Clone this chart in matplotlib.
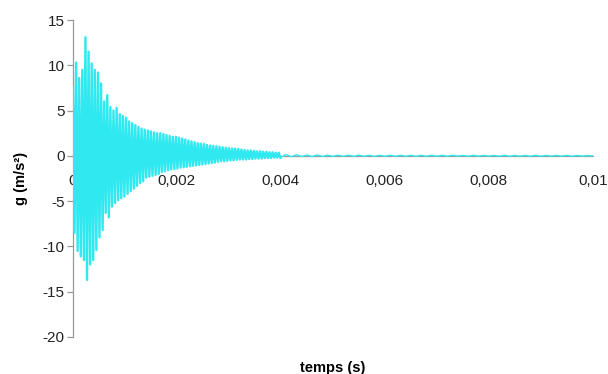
import numpy as np
import matplotlib
matplotlib.use("Agg")
import matplotlib.pyplot as plt #for plot creation

#time between two positive peaks (s)
period = 6e-5

#positive peaks of each cycle (m/s2)
upPeaks = [7.6, 10.3, 8.6, 9.5, 13.1, 11.5, 10.2, 9.5, 9.2, 8.0,
           6.0, 6.7, 5.4, 5.0, 5.3, 4.6, 4.4, 4.2, 3.8, 3.6,
           3.4, 3.2, 3.0, 2.9, 2.8, 2.7, 2.6, 2.5, 2.5, 2.4,
           2.3, 2.2, 2.1, 2.1, 2.0, 1.9, 1.8, 1.7, 1.6, 1.5,
           1.4, 1.35, 1.3, 1.2, 1.15, 1.1, 1.05, 1.0, 0.95, 0.9,
           0.85, 0.8, 0.8, 0.75, 0.7, 0.65, 0.6, 0.6, 0.55, 0.5,
           0.5, 0.45, 0.45, 0.4, 0.4, 0.35, 0.35]

#negative peaks of each cycle (m/s2)
downPeaks = [-8.5, -10.5, -11.1, -11.5, -13.7, -12.0, -11.5, -10.4, -9.0, -8.2,
             -6.3, -6.8, -5.6, -5.2, -4.9, -4.7, -4.5, -4.2, -3.9, -3.6,
             -3.3, -3.0, -2.8, -2.4, -2.3, -2.2, -2.1, -2.0, -1.8, -1.7,
             -1.6, -1.5, -1.45, -1.4, -1.3, -1.25, -1.2, -1.15, -1.1, -1.05,
             -1.0, -0.95, -0.9, -0.85, -0.8, -0.75, -0.65, -0.6, -0.6, -0.55,
             -0.5, -0.5, -0.45, -0.4, -0.4, -0.4, -0.35, -0.35, -0.3, -0.3,
             -0.3, -0.25, -0.25, -0.25, -0.2, -0.2, -0.2]

#small leftover signal after 0.004 s, one value every 0.0001 s
tailStart = 0.0041
tailStep = 1e-4
tailValues = [0.15, -0.1, 0.12, -0.08, 0.1, -0.08, 0.1, -0.06, 0.08, -0.06,
              0.08, -0.05, 0.07, -0.05, 0.08, -0.04, 0.06, -0.05, 0.06, -0.04,
              0.07, -0.04, 0.06, -0.04, 0.06, -0.05, 0.06, -0.04, 0.06, -0.04,
              0.06, -0.04, 0.06, -0.03, 0.05, -0.04, 0.06, -0.03, 0.05, -0.03,
              0.05, -0.04, 0.06, -0.04, 0.05, -0.03, 0.05, -0.04, 0.06, -0.04,
              0.05, -0.03, 0.05, -0.03, 0.05, -0.04, 0.05, -0.03, 0.04, -0.02]

#axis ticks and labels
xTicks = [0, 0.002, 0.004, 0.006, 0.008, 0.01]
xTickLabels = ["0", "0,002", "0,004", "0,006", "0,008", "0,01"]
yTicks = [15, 10, 5, 0, -5, -10, -15, -20]
yTickLabels = ["15", "10", "5", "0", "-5", "-10", "-15", "-20"]

#put up and down peaks one after the other
n = len(upPeaks)
tUp = np.arange(n) * period
tDown = (np.arange(n) + 0.5) * period
tSig = np.empty(2 * n)
gSig = np.empty(2 * n)
tSig[0::2] = tUp
tSig[1::2] = tDown
gSig[0::2] = upPeaks
gSig[1::2] = downPeaks

#the tail, starting from the last peak so the line stays joined
tTail = np.concatenate([[tSig[-1]], tailStart + np.arange(len(tailValues)) * tailStep])
gTail = np.concatenate([[gSig[-1]], tailValues])

plt.rcParams['font.family'] = ['Liberation Sans', 'DejaVu Sans']

fig = plt.figure(figsize=(6.08, 3.74), dpi=100)
ax = fig.add_axes([0.120, 0.099, 0.855, 0.8475])

lineColor = '#30E8F0'
ax.plot(tSig, gSig, color=lineColor, lw=1.7, zorder=3)
ax.plot(tTail, gTail, color=lineColor, lw=1.0, zorder=3)

ax.set_xlim(0, 0.01)
ax.set_ylim(-20, 15)

#spines: gray y axis on the left, x axis through zero
ax.spines['top'].set_visible(False)
ax.spines['right'].set_visible(False)
ax.spines['left'].set_color('#999999')
ax.spines['bottom'].set_position(('data', 0))
ax.spines['bottom'].set_color('#999999')
ax.spines['left'].set_linewidth(0.9)
ax.spines['bottom'].set_linewidth(0.9)

ax.set_xticks(xTicks)
ax.set_xticklabels(xTickLabels)
ax.set_yticks(yTicks)
ax.set_yticklabels(yTickLabels)
ax.tick_params(axis='x', length=0, pad=13, labelsize=11, colors='#222222')
ax.tick_params(axis='y', length=4, width=0.9, pad=2, labelsize=11,
               color='#999999', labelcolor='#222222')

ax.set_xlabel("temps (s)", fontsize=10.5, fontweight='bold')
ax.set_ylabel("g (m/s²)", fontsize=10.5, fontweight='bold')
ax.xaxis.set_label_coords(0.5, -0.075)
ax.yaxis.set_label_coords(-0.087, 0.5)

fig.savefig("out.png", dpi=100)
